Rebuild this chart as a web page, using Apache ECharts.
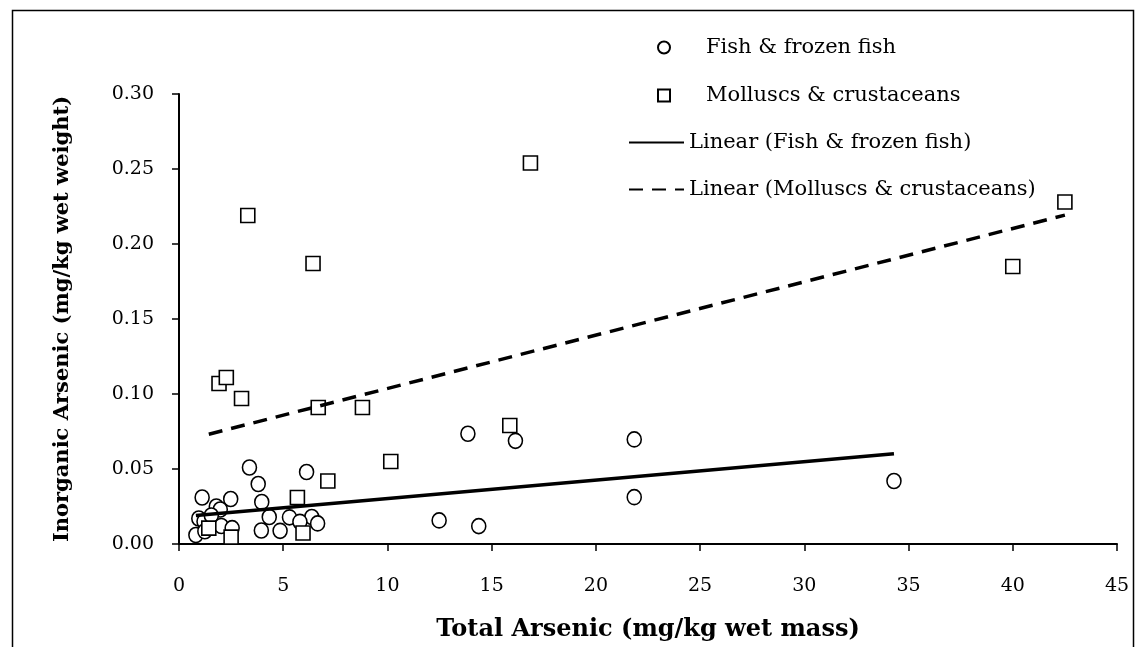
<!DOCTYPE html>
<html>
<head>
<meta charset="utf-8">
<script src="https://cdn.jsdelivr.net/npm/echarts@6/dist/echarts.min.js"></script>
<style>
html,body{margin:0;padding:0;background:#fff;}
#chart{width:1139px;height:647px;}
</style>
</head>
<body>
<div id="chart"></div>
<script>
// ---- data ----
const fishX = [3.38, 6.12, 3.8, 1.11, 2.48, 1.79, 1.98, 3.97, 4.33, 5.3, 6.37, 6.65, 5.8, 0.95, 1.2, 1.55, 2.03, 2.55, 0.81, 1.24, 3.95, 4.85, 13.86, 16.14, 21.84, 21.84, 12.48, 14.38, 34.3];
const fishY = [0.051, 0.048, 0.040, 0.031, 0.030, 0.025, 0.023, 0.028, 0.018, 0.0178, 0.018, 0.0137, 0.0148, 0.017, 0.015, 0.019, 0.012, 0.0106, 0.006, 0.0085, 0.009, 0.0088, 0.0735, 0.0688, 0.0697, 0.0312, 0.0157, 0.0119, 0.042];
const molX = [3.3, 6.43, 1.92, 2.27, 3.0, 6.68, 8.8, 16.86, 42.5, 40.0, 7.14, 5.68, 1.43, 2.5, 5.95, 10.16, 15.87];
const molY = [0.219, 0.187, 0.107, 0.111, 0.097, 0.091, 0.091, 0.254, 0.228, 0.185, 0.042, 0.031, 0.0106, 0.0046, 0.0073, 0.055, 0.079];
const seriesNames = ['Fish & frozen fish', 'Molluscs & crustaceans', 'Linear (Fish & frozen fish)', 'Linear (Molluscs & crustaceans)'];
const xTitle = 'Total Arsenic (mg/kg wet mass)';
const yTitle = 'Inorganic Arsenic (mg/kg wet weight)';

// least-squares trend line spanning the data range (as a spreadsheet trendline does)
function trend(xs, ys) {
  const n = xs.length;
  const mx = xs.reduce((a, b) => a + b, 0) / n;
  const my = ys.reduce((a, b) => a + b, 0) / n;
  let sxy = 0, sxx = 0;
  for (let i = 0; i < n; i++) { sxy += (xs[i] - mx) * (ys[i] - my); sxx += (xs[i] - mx) * (xs[i] - mx); }
  const b = sxy / sxx, a = my - b * mx;
  const x0 = Math.min(...xs), x1 = Math.max(...xs);
  return [[x0, a + b * x0], [x1, a + b * x1]];
}
const zip = (xs, ys) => xs.map((x, i) => [x, ys[i]]);

const FONT = 'DejaVu Serif';
const chart = echarts.init(document.getElementById('chart'), null, {renderer: 'canvas'});
chart.setOption({
  animation: false,
  backgroundColor: '#fff',
  grid: {left: 179, right: 22, top: 94, bottom: 101, containLabel: false},
  xAxis: {
    type: 'value', min: 0, max: 45, interval: 5,
    name: xTitle, nameLocation: 'middle', nameGap: 74,
    nameTextStyle: {fontFamily: FONT, fontSize: 24, fontWeight: 'bold', color: '#000'},
    axisLine: {onZero: false, lineStyle: {color: '#000', width: 2}},
    axisTick: {show: true, length: 7, inside: false, lineStyle: {color: '#000', width: 1.5}},
    axisLabel: {fontFamily: FONT, fontSize: 19, color: '#000', margin: 33},
    splitLine: {show: false}
  },
  yAxis: {
    type: 'value', min: 0, max: 0.30, interval: 0.05,
    name: yTitle, nameLocation: 'middle', nameGap: 106, nameRotate: 90,
    nameTextStyle: {fontFamily: FONT, fontSize: 21, fontWeight: 'bold', color: '#000'},
    axisLine: {show: true, onZero: false, lineStyle: {color: '#000', width: 2}},
    axisTick: {show: true, length: 7, inside: false, lineStyle: {color: '#000', width: 1.5}},
    axisLabel: {fontFamily: FONT, fontSize: 19, color: '#000', margin: 25, formatter: v => v.toFixed(2)},
    splitLine: {show: false}
  },
  legend: [
    {
      data: [seriesNames[0], seriesNames[1]], orient: 'vertical', left: 652, top: 32,
      itemWidth: 12, itemHeight: 12, itemGap: 27, selectedMode: false,
      formatter: n => '{g| }' + n,
      textStyle: {fontFamily: FONT, fontSize: 21, color: '#000', rich: {g: {width: 31}}}
    },
    {
      data: [seriesNames[2], seriesNames[3]], orient: 'vertical', left: 623, top: 127,
      itemWidth: 55, itemHeight: 20, itemGap: 26, selectedMode: false,
      itemStyle: {opacity: 0},
      textStyle: {fontFamily: FONT, fontSize: 21, color: '#000'}
    }
  ],
  graphic: [{
    type: 'rect', left: 10, top: 8, silent: true,
    shape: {x: 0, y: 0, width: 1121, height: 700},
    style: {fill: 'none', stroke: '#000', lineWidth: 1.5}
  }],
  series: [
    {
      name: seriesNames[0], type: 'scatter', data: zip(fishX, fishY),
      symbol: 'circle', symbolSize: [14, 15],
      itemStyle: {color: '#fff', borderColor: '#000', borderWidth: 1.6, opacity: 1}
    },
    {
      name: seriesNames[1], type: 'scatter', data: zip(molX, molY),
      symbol: 'rect', symbolSize: 14,
      itemStyle: {color: '#fff', borderColor: '#000', borderWidth: 1.6, opacity: 1}
    },
    {
      name: seriesNames[2], type: 'line', data: trend(fishX, fishY),
      symbol: 'none', z: 5,
      lineStyle: {color: '#000', width: 3.5, type: 'solid'},
      itemStyle: {color: '#000'}
    },
    {
      name: seriesNames[3], type: 'line', data: trend(molX, molY),
      symbol: 'none', z: 5,
      lineStyle: {color: '#000', width: 3.5, type: [14, 9]},
      itemStyle: {color: '#000'}
    }
  ]
});
</script>
</body>
</html>
